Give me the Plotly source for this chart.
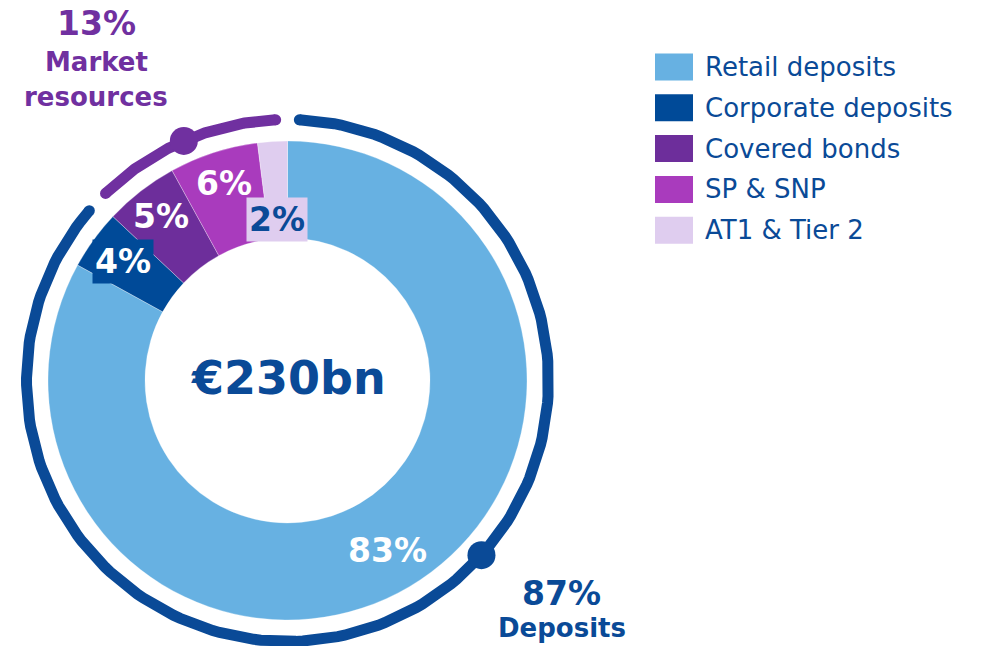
import math
import plotly.graph_objects as go

# ---------------- data ----------------
categories = ["Retail deposits", "Corporate deposits", "Covered bonds", "SP & SNP", "AT1 & Tier 2"]
shares = [83, 4, 5, 6, 2]
slice_labels = ["83%", "4%", "5%", "6%", "2%"]
group_names = ["Deposits", "Market\u00a0resources"]
group_shares = [87, 13]
group_labels = ["87%", "13%"]
total_label = "€230bn"

# ---------------- style ----------------
W, H = 982, 646
CX, CY = 287.5, 380.5          # donut centre (px)
R_OUT, R_IN = 239.5, 142.5
R_RING = 261
RING_W = 11
GAP_DEG = 2.6
DARK = "#0A4A97"
PURPLE = "#7030A0"
colors = ["#67B1E2", "#004A98", "#6D2E9B", "#A93BBD", "#DFCDEF"]
label_radius = [197, 203, 207, 207, 161]
label_bg = [None, "#004A98", None, None, "#DFCDEF"]
label_color = ["white", "white", "white", "white", DARK]
ring_colors = [DARK, PURPLE]
dot_angles = [132, None]   # None -> middle of arc
FONT = "DejaVu Sans"

fig = go.Figure()

fig.add_trace(go.Pie(
    values=shares, labels=categories, sort=False, direction="clockwise", rotation=0,
    hole=R_IN / R_OUT, marker=dict(colors=colors, line=dict(color="white", width=0.3)),
    textinfo="none", hoverinfo="skip", showlegend=False,
    domain=dict(x=[(CX - R_OUT) / W, (CX + R_OUT) / W],
                y=[(H - CY - R_OUT) / H, (H - CY + R_OUT) / H]),
))

# outer ring arcs
def pt(theta_deg, r):
    t = math.radians(theta_deg)
    return CX + r * math.sin(t), CY - r * math.cos(t)

start = 0.0
for i, g in enumerate(group_shares):
    a0 = start * 3.6 + GAP_DEG
    a1 = (start + g) * 3.6 - GAP_DEG
    n = 200
    xs, ys = [], []
    for k in range(n + 1):
        x, y = pt(a0 + (a1 - a0) * k / n, R_RING)
        xs.append(x); ys.append(y)
    fig.add_trace(go.Scatter(x=xs, y=ys, mode="lines", line=dict(color=ring_colors[i], width=RING_W),
                             hoverinfo="skip", showlegend=False))
    # round caps
    fig.add_trace(go.Scatter(x=[xs[0], xs[-1]], y=[ys[0], ys[-1]], mode="markers",
                             marker=dict(color=ring_colors[i], size=RING_W, line=dict(width=0)),
                             hoverinfo="skip", showlegend=False))
    da = dot_angles[i] if dot_angles[i] is not None else (a0 + a1) / 2
    dx, dy = pt(da, R_RING)
    fig.add_trace(go.Scatter(x=[dx], y=[dy], mode="markers",
                             marker=dict(color=ring_colors[i], size=28, line=dict(width=0)),
                             hoverinfo="skip", showlegend=False))
    start += g

annotations = []
# slice labels
cum = 0
for i, s in enumerate(shares):
    mid = (cum + s / 2) * 3.6
    x, y = pt(mid, label_radius[i])
    a = dict(x=x, y=y, xref="x", yref="y", text="<b>%s</b>" % slice_labels[i], showarrow=False,
             font=dict(family=FONT, size=33, color=label_color[i]), xanchor="center", yanchor="middle")
    if label_bg[i]:
        a.update(bgcolor=label_bg[i], borderpad=2)
    annotations.append(a)
    cum += s

# centre total
annotations.append(dict(x=CX + 1, y=CY - 3, xref="x", yref="y", text="<b>%s</b>" % total_label,
                        showarrow=False, font=dict(family=FONT, size=46, color=DARK)))

# group labels
annotations.append(dict(x=561, y=593, xref="x", yref="y", text="<b>%s</b>" % group_labels[0],
                        showarrow=False, font=dict(family=FONT, size=33, color=DARK)))
annotations.append(dict(x=562, y=628, xref="x", yref="y", text="<b>%s</b>" % group_names[0],
                        showarrow=False, font=dict(family=FONT, size=26, color=DARK)))
annotations.append(dict(x=96, y=23, xref="x", yref="y", text="<b>%s</b>" % group_labels[1],
                        showarrow=False, font=dict(family=FONT, size=33, color=PURPLE)))
for j, w in enumerate(group_names[1].split("\u00a0")):
    annotations.append(dict(x=96, y=62 + 35 * j, xref="x", yref="y", text="<b>%s</b>" % w,
                            showarrow=False, font=dict(family=FONT, size=26, color=PURPLE)))

# custom legend
shapes = []
LEG_X0, LEG_X1 = 655, 693
LEG_Y0, LEG_DY, SW_H = 67, 40.8, 27
for i, c in enumerate(categories):
    yc = LEG_Y0 + LEG_DY * i
    shapes.append(dict(type="rect", xref="x", yref="y", x0=LEG_X0, x1=LEG_X1,
                       y0=yc - SW_H / 2, y1=yc + SW_H / 2, fillcolor=colors[i], line=dict(width=0)))
    annotations.append(dict(x=703, y=yc, xref="x", yref="y", text=c, showarrow=False,
                            xanchor="left", yanchor="middle",
                            font=dict(family=FONT, size=26, color=DARK)))

fig.update_layout(
    width=W, height=H, margin=dict(l=0, r=0, t=0, b=0),
    paper_bgcolor="white", plot_bgcolor="white",
    xaxis=dict(range=[0, W], visible=False, fixedrange=True, domain=[0, 1]),
    yaxis=dict(range=[H, 0], visible=False, fixedrange=True, domain=[0, 1]),
    annotations=annotations, shapes=shapes, showlegend=False,
)

fig.write_html("out.html", config={"displayModeBar": False},
               post_script="document.body.style.margin='0';document.body.style.overflow='hidden';")
